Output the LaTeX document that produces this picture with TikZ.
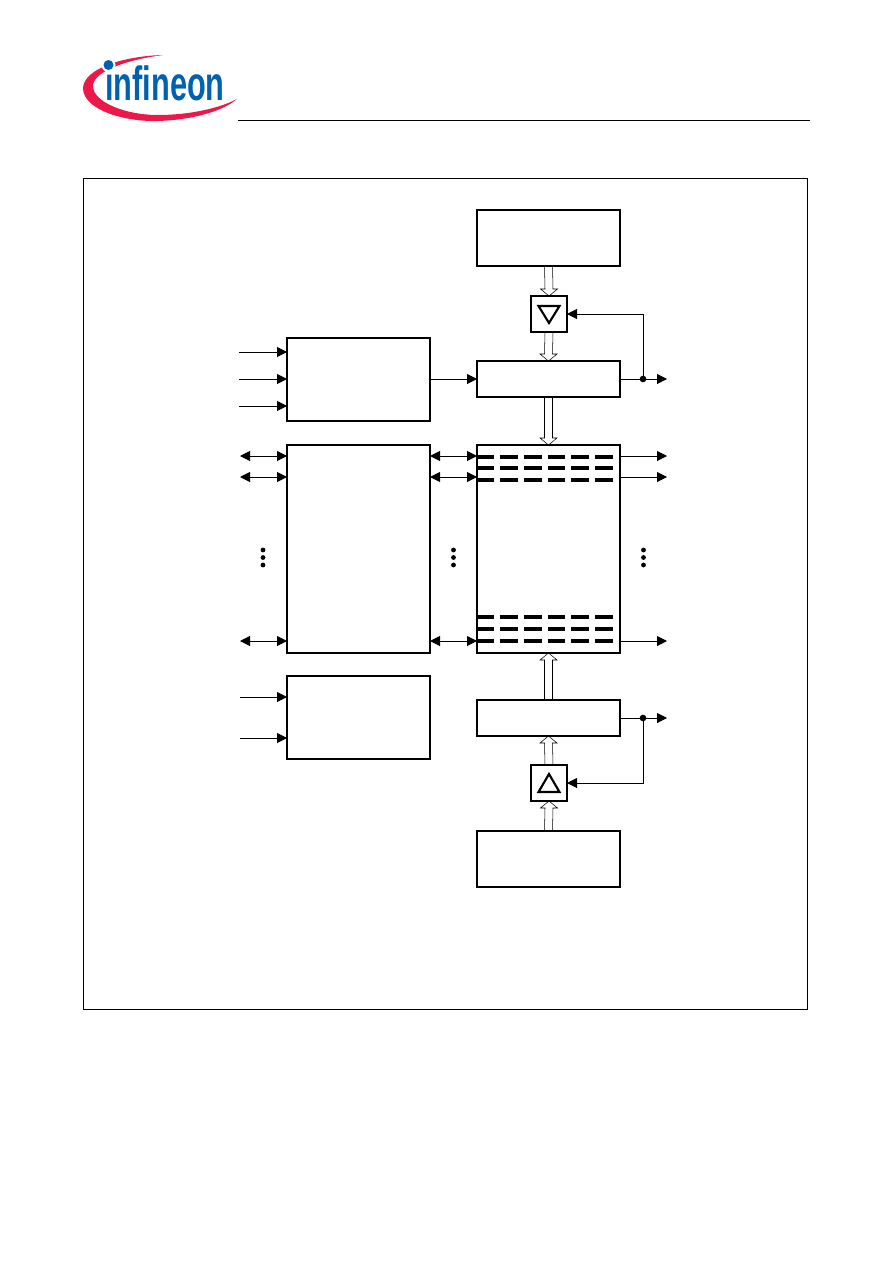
\documentclass[tikz,border=0pt]{standalone}
\usepackage{fontspec}
\newfontfamily\logofont{Liberation Sans}[Scale=1]
\usetikzlibrary{arrows.meta,calc}
\definecolor{logored}{RGB}{236,24,74}
\definecolor{logoblue}{RGB}{0,98,175}
\tikzset{
	block/.style={draw, line width=1.2pt, minimum width=107.25pt, outer sep=0pt, inner sep=0pt},
	gate/.style={draw, line width=1.2pt, minimum size=27pt, outer sep=0pt, inner sep=0pt},
	sig/.style={line width=.75pt, -{Triangle[length=7.5pt,width=7.5pt]}},
	bisig/.style={line width=.75pt, {Triangle[length=7.5pt,width=7.5pt]}-{Triangle[length=7.5pt,width=7.5pt]}},
	junct/.style={circle, fill=black, minimum size=5pt, inner sep=0pt},
	bus/.style={line width=1pt, to path={
		($(\tikztostart)+(-4,0)$) -- ($(\tikztotarget)+(-4,-7*#1)$) -- ($(\tikztotarget)+(-8.5,-7*#1)$) --
		(\tikztotarget) -- ($(\tikztotarget)+(8.5,-7*#1)$) -- ($(\tikztotarget)+(4,-7*#1)$) -- ($(\tikztostart)+(4,0)$)}},
}
\begin{document}
\begin{tikzpicture}[x=.75pt,y=-.75pt]
	\useasboundingbox (0,0) rectangle (892,1263);

	% logo
	\fill[logored] (163,55) .. controls (125,56) and (84,68) .. (83,88)
		.. controls (83,110) and (125,122) .. (158,121)
		.. controls (190,120) and (222,112) .. (237,99)
		.. controls (220,108) and (190,115) .. (158,115)
		.. controls (125,115) and (93,102) .. (93,86)
		.. controls (93,72) and (125,60) .. (163,55) -- cycle;
	\node[logoblue, font=\logofont\bfseries\fontsize{36pt}{36pt}\selectfont, xscale=.64, anchor=base west, inner sep=0pt] (logotext) at (105,100) {infineon};
	\fill[white] (108.5,65) circle (7);
	\fill[logoblue] (108.5,65) circle (5);
	\draw[line width=.75pt] (238,120.6) -- (810,120.6);

	% frame
	\draw[line width=.75pt] (83,178.8) rectangle (807,1009);

	% blocks
	\node[block, minimum height=42pt] (top) at (548.5,238) {};
	\node[gate] (bufa) at (549,314) {};
	\node[block, minimum height=27pt] (rega) at (548.5,379) {};
	\node[block, minimum height=62.25pt] (ctrla) at (358.5,379.5) {};
	\node[block, minimum height=156pt] (io) at (358.5,549) {};
	\node[block, minimum height=156pt] (mem) at (548.5,549) {};
	\node[block, minimum height=62.25pt] (ctrlb) at (358.5,717.5) {};
	\node[block, minimum height=27pt] (regb) at (548.5,718) {};
	\node[gate] (bufb) at (549,783) {};
	\node[block, minimum height=42pt] (bot) at (548.5,859) {};

	% triangles in the gates
	\draw[line width=1.6pt] ($(bufa)+(-10.5,-8)$) -- ($(bufa)+(10.5,-8)$) -- ($(bufa)+(0,9)$) -- cycle;
	\draw[line width=1.6pt] ($(bufb)+(-10.5,9)$) -- ($(bufb)+(10.5,9)$) -- ($(bufb)+(0,-9)$) -- cycle;

	% buses
	\draw (top.south) to[bus=1] (bufa.north);
	\draw (bufa.south) to[bus=1] (rega.north);
	\draw (rega.south) to[bus=1] (mem.north);
	\draw (regb.north) to[bus=-1] (mem.south);
	\draw (bufb.north) to[bus=-1] (regb.south);
	\draw (bot.north) to[bus=-1] (bufb.south);

	% control inputs
	\foreach \y in {352,379,406} {
		\coordinate (ina) at (239,\y);
		\draw[sig] (ina) -- (ina -| ctrla.west);
	}
	\foreach \y in {697,738} {
		\coordinate (inb) at (240,\y);
		\draw[sig] (inb) -- (inb -| ctrlb.west);
	}
	\draw[sig] (rega.west -| ctrla.east) -- (rega.west);

	% data lines
	\foreach \y in {456,477,641} {
		\coordinate (pad) at (240,\y);
		\coordinate (out) at (667,\y);
		\draw[bisig] (pad) -- (pad -| io.west);
		\draw[bisig] (pad -| io.east) -- (pad -| mem.west);
		\draw[sig] (pad -| mem.east) -- (out);
	}

	% outputs with feedback to the gates
	\coordinate (outa) at (667,379);
	\node[junct] (ja) at (643,379) {};
	\draw[sig] (rega.east) -- (outa);
	\draw[sig] (ja.center) |- (bufa.east);
	\coordinate (outb) at (667,718);
	\node[junct] (jb) at (643,718) {};
	\draw[sig] (regb.east) -- (outb);
	\draw[sig] (jb.center) |- (bufb.east);

	% lines of the cell block
	\foreach \y in {457,468,480,617,629,641} {
		\foreach \a/\b in {477/494,500/518,524/542,548/565,571/589,595/613} {
			\draw[line width=3pt] (\a,\y) -- (\b,\y);
		}
	}

	% ellipsis marks
	\foreach \x in {263,453.5,643.5} {
		\foreach \y in {550,557.5,565} {
			\fill (\x,\y) circle (2.4);
		}
	}
\end{tikzpicture}
\end{document}
